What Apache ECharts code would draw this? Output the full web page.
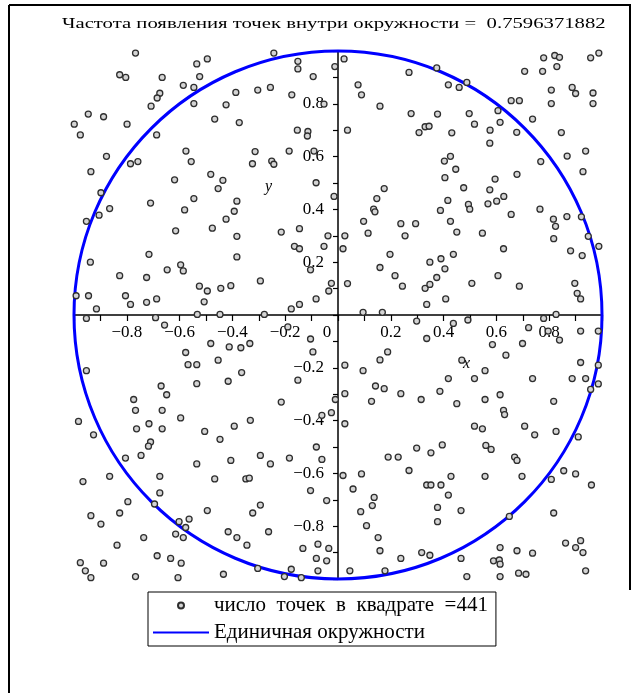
<!DOCTYPE html>
<html>
<head>
<meta charset="utf-8">
<script src="https://cdn.jsdelivr.net/npm/echarts@6/dist/echarts.min.js"></script>
<style>
  html, body { margin: 0; padding: 0; background: #fff; }
  #chart { width: 636px; height: 693px; }
</style>
</head>
<body>
<div id="chart"></div>
<script>
// Texts
const titleText = 'Частота появления точек внутри окружности =  0.7596371882';
const pointsName = 'число  точек  в  квадрате  =441';
const circleName = 'Единичная окружности';
const xAxisName = 'x';
const yAxisName = 'y';

// Axis range and tick spacing
const axisMin = -1;
const axisMax = 1;
const tickStep = 0.1;

// Unit circle: centre x, centre y, radius
const unitCircle = [[0, 0, 1]];

// Sampled points [x, y], upper band (y > 0.34)
const pointsUpper = [
  [-0.767,0.992],[-0.535,0.951],[-0.495,0.970],[-0.827,0.910],[-0.804,0.900],[-0.666,0.900],[-0.524,0.903],
  [-0.586,0.870],[-0.546,0.862],[-0.387,0.843],[-0.675,0.840],[-0.685,0.822],[-0.708,0.791],[-0.546,0.801],
  [-0.424,0.796],[-0.946,0.761],[-0.888,0.751],[-0.467,0.742],[-0.374,0.729],[-0.999,0.723],[-0.799,0.723],
  [-0.976,0.682],[-0.687,0.682],[-0.576,0.621],[-0.877,0.601],[-0.556,0.581],[-0.786,0.573],[-0.758,0.581],
  [-0.936,0.543],[-0.482,0.533],[-0.436,0.510],[-0.619,0.512],[-0.454,0.479],[-0.898,0.463],[-0.546,0.441],
  [-0.710,0.424],[-0.383,0.431],[-0.865,0.403],[-0.581,0.398],[-0.393,0.393],[-0.905,0.378],[-0.424,0.363],
  [-0.953,0.355],
  [-0.243,0.992],[-0.152,0.961],[-0.152,0.932],[0.023,0.970],[-0.012,0.941],[0.269,0.919],[-0.094,0.903],
  [0.076,0.872],[0.089,0.834],[-0.304,0.852],[-0.256,0.862],[-0.175,0.834],[-0.053,0.799],[0.159,0.791],
  [0.277,0.763],[0.330,0.713],[0.307,0.691],[-0.154,0.700],[-0.114,0.695],[-0.116,0.678],[0.036,0.700],
  [-0.314,0.619],[-0.185,0.621],[-0.091,0.621],[-0.324,0.573],[-0.251,0.583],[-0.243,0.571],[-0.083,0.501],
  [0.175,0.479],[-0.015,0.449],[0.147,0.441],[0.135,0.401],[0.140,0.391],[0.097,0.355],[0.238,0.346],
  [0.294,0.346],
  [0.779,0.974],[0.821,0.983],[0.839,0.976],[0.829,0.941],[0.957,0.974],[0.988,0.992],[0.707,0.923],
  [0.775,0.923],[0.374,0.936],[0.418,0.872],[0.459,0.862],[0.488,0.881],[0.808,0.852],[0.887,0.862],
  [0.900,0.839],[0.966,0.841],[0.966,0.801],[0.808,0.801],[0.656,0.812],[0.687,0.812],[0.377,0.761],
  [0.497,0.763],[0.606,0.774],[0.614,0.730],[0.517,0.723],[0.737,0.742],[0.345,0.715],[0.431,0.690],
  [0.576,0.700],[0.677,0.692],[0.846,0.691],[0.575,0.651],[0.868,0.602],[0.938,0.621],[0.426,0.601],
  [0.403,0.583],[0.768,0.581],[0.446,0.552],[0.928,0.543],[0.678,0.533],[0.405,0.520],[0.595,0.515],
  [0.476,0.482],[0.575,0.474],[0.628,0.449],[0.416,0.434],[0.494,0.419],[0.499,0.401],[0.568,0.421],
  [0.601,0.431],[0.388,0.396],[0.656,0.381],[0.765,0.401],[0.816,0.363],[0.867,0.373],[0.426,0.355],
  [0.922,0.372]
];

// Middle band (-0.34 .. 0.34)
const pointsMiddle = [
  [-0.615,0.319],[-0.476,0.329],[-0.383,0.298],[-0.716,0.230],[-0.938,0.200],[-0.383,0.220],[-0.647,0.171],
  [-0.596,0.190],[-0.586,0.167],[-0.827,0.149],[-0.725,0.142],[-0.525,0.109],[-0.495,0.091],[-0.444,0.101],
  [-0.406,0.111],[-0.992,0.073],[-0.945,0.073],[-0.805,0.073],[-0.786,0.040],[-0.725,0.048],[-0.687,0.061],
  [-0.507,0.050],[-0.915,0.023],[-0.953,-0.013],[-0.691,-0.010],[-0.533,0.002],[-0.447,0.002],[-0.657,-0.038],
  [-0.482,-0.108],[-0.412,-0.121],[-0.368,-0.124],[-0.577,-0.142],[-0.568,-0.188],[-0.535,-0.188],[-0.454,-0.171],
  [-0.953,-0.211],[-0.365,-0.218],[-0.416,-0.251],[-0.535,-0.260],[-0.670,-0.269],[-0.649,-0.302],[-0.774,-0.320],
  [-0.215,0.314],[-0.146,0.327],[-0.038,0.300],[0.026,0.300],[0.114,0.310],[0.254,0.300],[-0.165,0.260],
  [-0.146,0.251],[-0.053,0.260],[0.019,0.251],[0.197,0.230],[0.159,0.180],[-0.104,0.171],[-0.294,0.129],
  [0.216,0.149],[0.244,0.109],[0.330,0.101],[-0.025,0.120],[0.036,0.119],[-0.035,0.091],[-0.083,0.061],
  [-0.146,0.040],[-0.177,0.023],[0.336,0.040],[-0.279,0.002],[0.095,0.010],[0.168,0.010],[0.298,-0.023],
  [-0.190,-0.045],[-0.104,-0.091],[-0.334,-0.108],[0.336,-0.089],[-0.095,-0.140],[0.188,-0.140],[0.159,-0.170],
  [0.026,-0.190],[0.095,-0.211],[-0.152,-0.247],[0.142,-0.269],[0.175,-0.279],[0.026,-0.298],[0.238,-0.298],
  [-0.215,-0.330],[-0.010,-0.320],[0.127,-0.327],[0.315,-0.320],
  [0.450,0.314],[0.547,0.310],[0.824,0.336],[0.817,0.289],[0.948,0.298],[0.988,0.260],[0.627,0.251],
  [0.437,0.230],[0.881,0.243],[0.925,0.225],[0.390,0.213],[0.348,0.200],[0.405,0.175],[0.374,0.142],
  [0.348,0.116],[0.606,0.149],[0.507,0.120],[0.687,0.109],[0.897,0.120],[0.906,0.082],[0.919,0.061],
  [0.408,0.061],[0.826,0.002],[0.779,-0.013],[0.437,-0.032],[0.492,-0.019],[0.722,-0.048],[0.796,-0.061],
  [0.919,-0.061],[0.986,-0.061],[0.585,-0.112],[0.699,-0.108],[0.839,-0.095],[0.636,-0.152],[0.469,-0.171],
  [0.557,-0.211],[0.919,-0.180],[0.986,-0.190],[0.418,-0.241],[0.517,-0.241],[0.737,-0.241],[0.887,-0.241],
  [0.938,-0.241],[0.986,-0.261],[0.957,-0.282],[0.386,-0.289],[0.614,-0.302],[0.557,-0.320],[0.450,-0.336],
  [0.817,-0.327]
];

// Lower band (y < -0.34)
const pointsLower = [
  [-0.767,-0.361],[-0.666,-0.361],[-0.596,-0.390],[-0.983,-0.403],[-0.716,-0.412],[-0.763,-0.431],[-0.666,-0.431],
  [-0.926,-0.454],[-0.505,-0.441],[-0.393,-0.421],[-0.447,-0.471],[-0.710,-0.481],[-0.718,-0.497],[-0.746,-0.532],
  [-0.805,-0.542],[-0.535,-0.564],[-0.406,-0.551],[-0.865,-0.611],[-0.675,-0.611],[-0.966,-0.631],[-0.467,-0.621],
  [-0.349,-0.621],[-0.675,-0.674],[-0.796,-0.707],[-0.695,-0.716],[-0.827,-0.750],[-0.936,-0.760],[-0.495,-0.741],
  [-0.898,-0.792],[-0.602,-0.783],[-0.564,-0.773],[-0.577,-0.805],[-0.615,-0.830],[-0.586,-0.843],[-0.416,-0.821],
  [-0.383,-0.843],[-0.736,-0.843],[-0.837,-0.872],[-0.685,-0.912],[-0.634,-0.922],[-0.594,-0.940],[-0.976,-0.938],
  [-0.888,-0.940],[-0.957,-0.969],[-0.936,-0.995],[-0.767,-0.991],[-0.606,-0.995],[-0.434,-0.982],[-0.345,-0.872],
  [-0.332,-0.399],[-0.025,-0.370],[-0.061,-0.380],[0.026,-0.412],[-0.082,-0.500],[-0.294,-0.532],[-0.256,-0.564],
  [-0.184,-0.542],[-0.061,-0.547],[0.190,-0.538],[0.228,-0.538],[0.298,-0.504],[0.269,-0.589],[-0.336,-0.618],
  [0.019,-0.608],[0.089,-0.602],[0.336,-0.644],[-0.104,-0.665],[0.057,-0.659],[-0.043,-0.703],[0.137,-0.691],
  [0.130,-0.722],[-0.294,-0.720],[-0.323,-0.750],[0.086,-0.745],[0.108,-0.798],[-0.263,-0.821],[0.152,-0.843],
  [-0.133,-0.884],[-0.076,-0.868],[-0.035,-0.884],[0.159,-0.893],[0.317,-0.900],[-0.082,-0.922],[-0.043,-0.931],
  [0.238,-0.922],[-0.177,-0.963],[-0.304,-0.960],[-0.076,-0.969],[0.045,-0.969],[0.178,-0.969],[-0.203,-0.991],
  [-0.139,-0.995],
  [0.627,-0.361],[0.631,-0.377],[0.517,-0.421],[0.547,-0.431],[0.707,-0.421],[0.745,-0.454],[0.826,-0.441],
  [0.910,-0.462],[0.395,-0.492],[0.352,-0.522],[0.560,-0.494],[0.580,-0.509],[0.669,-0.538],[0.678,-0.551],
  [0.428,-0.611],[0.557,-0.611],[0.697,-0.611],[0.855,-0.590],[0.900,-0.602],[0.808,-0.623],[0.960,-0.644],
  [0.352,-0.644],[0.390,-0.644],[0.418,-0.682],[0.377,-0.729],[0.466,-0.741],[0.377,-0.783],[0.817,-0.750],
  [0.649,-0.763],[0.348,-0.910],[0.466,-0.922],[0.614,-0.881],[0.678,-0.893],[0.737,-0.902],[0.589,-0.931],
  [0.611,-0.928],[0.614,-0.944],[0.862,-0.864],[0.900,-0.881],[0.919,-0.855],[0.928,-0.900],[0.488,-0.991],
  [0.614,-0.991],[0.684,-0.978],[0.712,-0.982],[0.938,-0.969]
];

const samplePoints = pointsUpper.concat(pointsMiddle, pointsLower);

const serif = '"Liberation Serif", "Times New Roman", serif';

// Plot box
const gridLeft = 74, gridTop = 51, gridSize = 528;

// Labels every 0.2, no labels at the ends; 0 only on the x axis, shifted left of the origin
function tickText(v, withZero) {
  const k = Math.round(v * 10);
  if (k % 2 !== 0 || Math.abs(k) === 10) return '';
  if (k === 0) return withZero ? '{o|0}' : '';
  return (k < 0 ? '\u2212' : '') + (Math.abs(k) / 10).toFixed(1);
}

const labelStyle = { color: '#000', fontFamily: serif, fontSize: 17 };

const chart = echarts.init(document.getElementById('chart'));

chart.setOption({
  animation: false,
  backgroundColor: '#fff',
  legend: {
    orient: 'vertical',
    left: 148,
    top: 592,
    itemWidth: 56,
    itemHeight: 6,
    itemGap: 6,
    padding: [3, 8, 3, 4],
    borderColor: '#000',
    borderWidth: 1,
    selectedMode: false,
    textStyle: { fontFamily: serif, fontSize: 21, color: '#000' },
    data: [
      { name: pointsName },
      { name: circleName, itemStyle: { color: 'rgba(0,0,0,0)', borderWidth: 0 } }
    ]
  },
  grid: { left: gridLeft, top: gridTop, width: gridSize, height: gridSize },
  // Both axes cross at the origin, in the middle of the plot box
  xAxis: {
    type: 'value',
    position: 'bottom',
    offset: -gridSize / 2,
    min: axisMin,
    max: axisMax,
    interval: tickStep,
    axisLine: { onZero: false, lineStyle: { color: '#000', width: 1.5 } },
    axisTick: { length: 6, lineStyle: { color: '#000', width: 1.2 } },
    splitLine: { show: false },
    axisLabel: Object.assign({
      margin: 9,
      formatter: v => tickText(v, true),
      rich: { o: Object.assign({ padding: [0, 22, 0, 0] }, labelStyle) }
    }, labelStyle)
  },
  yAxis: {
    type: 'value',
    position: 'left',
    offset: -gridSize / 2,
    min: axisMin,
    max: axisMax,
    interval: tickStep,
    axisLine: { onZero: false, lineStyle: { color: '#000', width: 1.5 } },
    axisTick: { length: 5, lineStyle: { color: '#000', width: 1.2 } },
    splitLine: { show: false },
    axisLabel: Object.assign({ margin: 14, formatter: v => tickText(v, false) }, labelStyle)
  },
  graphic: [
    { type: 'line', shape: { x1: 9, y1: 5, x2: 9, y2: 693 }, style: { stroke: '#000', lineWidth: 2 } },
    { type: 'line', shape: { x1: 9, y1: 5, x2: 631, y2: 5 }, style: { stroke: '#000', lineWidth: 2 } },
    { type: 'line', shape: { x1: 630, y1: 5, x2: 630, y2: 590 }, style: { stroke: '#000', lineWidth: 2 } },
    {
      type: 'text', x: 62, y: 17, scaleX: 1.38,
      style: { text: titleText, font: '15px ' + serif, fill: '#000' }
    },
    { type: 'text', x: 463, y: 356, style: { text: xAxisName, font: 'italic 16px ' + serif, fill: '#000' } },
    { type: 'text', x: 265, y: 179, style: { text: yAxisName, font: 'italic 16px ' + serif, fill: '#000' } }
  ],
  series: [
    {
      type: 'scatter',
      name: pointsName,
      data: samplePoints,
      symbol: 'circle',
      symbolSize: 6,
      itemStyle: { color: '#d4d4d4', borderColor: '#2e2e2e', borderWidth: 1.3, opacity: 1 },
      z: 4,
      silent: true
    },
    {
      type: 'line',
      name: circleName,
      data: [],
      symbol: 'none',
      lineStyle: { color: '#0000ff', width: 3 },
      itemStyle: { color: '#0000ff' }
    },
    {
      type: 'custom',
      name: circleName,
      data: unitCircle,
      encode: { x: 0, y: 1 },
      clip: false,
      z: 3,
      silent: true,
      renderItem: function (params, api) {
        const c = api.coord([api.value(0), api.value(1)]);
        const r = api.size([api.value(2), api.value(2)]);
        return {
          type: 'ellipse',
          shape: { cx: c[0], cy: c[1], rx: r[0], ry: r[1] },
          style: { fill: 'none', stroke: '#0000ff', lineWidth: 3 }
        };
      }
    }
  ]
});
</script>
</body>
</html>
